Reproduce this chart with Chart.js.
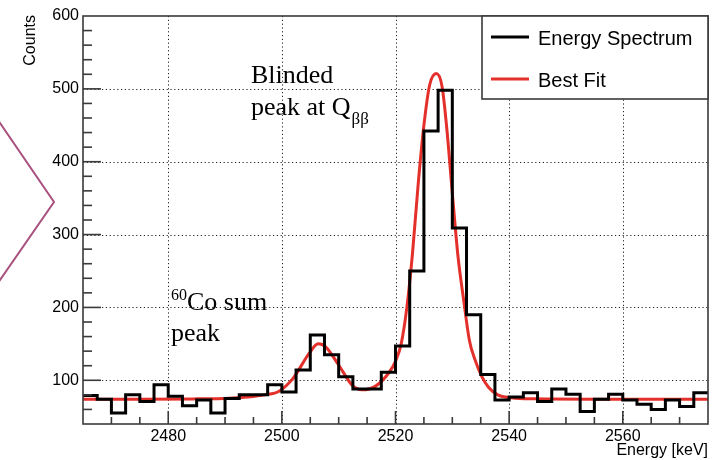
<!DOCTYPE html>
<html>
<head>
<meta charset="utf-8">
<script src="https://cdn.jsdelivr.net/npm/chart.js@4.4.1/dist/chart.umd.min.js"></script>
<style>
  html, body { margin: 0; padding: 0; background: #fff; }
  #wrap { position: relative; width: 716px; height: 460px; }
  canvas { display: block; }
</style>
</head>
<body>
<div id="wrap"><canvas id="c" width="716" height="460"></canvas></div>
<script>
// Histogram bins (lower edge in keV) and their counts
const binLowEdges = [
  2465, 2467.5, 2470, 2472.5, 2475, 2477.5, 2480, 2482.5, 2485, 2487.5,
  2490, 2492.5, 2495, 2497.5, 2500, 2502.5, 2505, 2507.5, 2510, 2512.5,
  2515, 2517.5, 2520, 2522.5, 2525, 2527.5, 2530, 2532.5, 2535, 2537.5,
  2540, 2542.5, 2545, 2547.5, 2550, 2552.5, 2555, 2557.5, 2560, 2562.5,
  2565, 2567.5, 2570, 2572.5
];
const binCounts = [
  79, 74, 55, 80, 71, 94, 78, 65, 73, 55,
  75, 80, 80, 94, 84, 114, 162, 135, 105, 88,
  88, 111, 147, 250, 442, 498, 309, 190, 108, 73,
  77, 83, 71, 88, 81, 57, 74, 81, 73, 67,
  60, 73, 64, 83
];
const histUpperEdge = 2575;

// Fitted model curve, sampled along the energy axis
const fitEnergy = [
  2465, 2475, 2485, 2490, 2494, 2497, 2499.5, 2502, 2504.8, 2506.4,
  2507.7, 2510, 2512.4, 2514.1, 2516.5, 2518.8, 2520, 2521, 2522, 2523,
  2524, 2525, 2526, 2527.2, 2528.2, 2529, 2530, 2531, 2532, 2533,
  2534, 2535.2, 2536.4, 2538, 2540.4, 2544.5, 2555, 2575
];
const fitCounts = [
  74, 74, 74.5, 75, 77, 80, 85, 103, 137, 150,
  146, 121, 93, 87, 92, 110, 126, 150, 200, 275,
  370, 450, 505, 521, 503, 448, 357, 270, 210, 155,
  128, 105, 90, 80, 76, 74.5, 74, 74
];

// Axis ticks
const xTickValues = [2480, 2500, 2520, 2540, 2560];
const yTickValues = [100, 200, 300, 400, 500, 600];
const xRange = [2465, 2575];
const yRange = [40, 600];

const seriesLabels = ['Energy Spectrum', 'Best Fit'];
const histColor = '#000000';
const fitColor = '#e4302a';
const frameColor = '#3a3a3a';
const sansFont = '"Liberation Sans", Arial, Helvetica, sans-serif';
const serifFont = '"Liberation Serif", "Times New Roman", serif';

const histPoints = binLowEdges.map((e, i) => ({ x: e, y: binCounts[i] }));
histPoints.push({ x: histUpperEdge, y: binCounts[binCounts.length - 1] });
const fitPoints = fitEnergy.map((e, i) => ({ x: e, y: fitCounts[i] }));

const decorPlugin = {
  id: 'decor',
  beforeDatasetsDraw(chart) {
    const { ctx, chartArea: a, scales: { x, y } } = chart;
    ctx.save();
    ctx.strokeStyle = '#222';
    ctx.lineWidth = 1;
    ctx.setLineDash([1.2, 2.6]);
    xTickValues.forEach(v => {
      const px = Math.round(x.getPixelForValue(v)) + 0.5;
      ctx.beginPath(); ctx.moveTo(px, a.top); ctx.lineTo(px, a.bottom); ctx.stroke();
    });
    yTickValues.forEach(v => {
      if (v >= yRange[1]) return;
      const py = Math.round(y.getPixelForValue(v)) + 0.5;
      ctx.beginPath(); ctx.moveTo(a.left, py); ctx.lineTo(a.right, py); ctx.stroke();
    });
    ctx.restore();
  },
  afterDatasetsDraw(chart) {
    const { ctx, chartArea: a, scales: { x, y } } = chart;
    ctx.save();
    // Frame
    ctx.strokeStyle = frameColor;
    ctx.lineWidth = 1.6;
    ctx.strokeRect(a.left, a.top, a.right - a.left, a.bottom - a.top);
    // X ticks (major every 20 keV, minor every 5 keV)
    for (let v = 2470; v < xRange[1]; v += 5) {
      const px = x.getPixelForValue(v);
      const len = xTickValues.includes(v) ? 13 : 7;
      ctx.beginPath(); ctx.moveTo(px, a.bottom); ctx.lineTo(px, a.bottom - len); ctx.stroke();
    }
    // Y ticks (major every 100, minor every 20)
    for (let v = 60; v < yRange[1]; v += 20) {
      const py = y.getPixelForValue(v);
      const len = yTickValues.includes(v) ? 18 : 9;
      ctx.beginPath(); ctx.moveTo(a.left, py); ctx.lineTo(a.left + len, py); ctx.stroke();
    }

    // Axis titles
    ctx.fillStyle = '#000';
    ctx.font = '16px ' + sansFont;
    ctx.textAlign = 'right';
    ctx.textBaseline = 'alphabetic';
    ctx.fillText('Energy [keV]', a.right, 455);
    ctx.save();
    ctx.translate(35, a.top - 1);
    ctx.rotate(-Math.PI / 2);
    ctx.textAlign = 'right';
    ctx.fillText('Counts', 0, 0);
    ctx.restore();

    // Legend box
    const lx = 482, ly = a.top, lw = a.right - 482, lh = 83;
    ctx.fillStyle = '#fff';
    ctx.fillRect(lx, ly, lw, lh);
    ctx.strokeStyle = frameColor;
    ctx.lineWidth = 1.6;
    ctx.strokeRect(lx, ly, lw, lh);
    const entries = [
      { label: seriesLabels[0], color: histColor, yMid: 37 },
      { label: seriesLabels[1], color: fitColor, yMid: 79 }
    ];
    ctx.font = '20px ' + sansFont;
    ctx.textAlign = 'left';
    ctx.textBaseline = 'middle';
    entries.forEach(en => {
      ctx.strokeStyle = en.color;
      ctx.lineWidth = 3;
      ctx.beginPath(); ctx.moveTo(491, en.yMid); ctx.lineTo(529, en.yMid); ctx.stroke();
      ctx.fillStyle = '#000';
      ctx.fillText(en.label, 538, en.yMid + 2);
    });

    // Peak annotations
    ctx.textBaseline = 'alphabetic';
    ctx.fillStyle = '#000';
    ctx.font = '26px ' + serifFont;
    ctx.fillText('Blinded', 251, 83);
    ctx.fillText('peak at Q', 251, 115);
    const qw = ctx.measureText('peak at Q').width;
    ctx.font = '17px ' + serifFont;
    ctx.fillText('\u03b2\u03b2', 251 + qw + 1, 124);

    ctx.font = '16px ' + serifFont;
    ctx.fillText('60', 171, 300);
    const sw = ctx.measureText('60').width;
    ctx.font = '26px ' + serifFont;
    ctx.fillText('Co sum', 171 + sw, 310);
    ctx.fillText('peak', 171, 341);

    // Side marker
    ctx.strokeStyle = '#a8507e';
    ctx.lineWidth = 2;
    ctx.beginPath();
    ctx.moveTo(-2, 120); ctx.lineTo(54, 202); ctx.lineTo(-2, 283);
    ctx.stroke();
    ctx.restore();
  }
};

new Chart(document.getElementById('c'), {
  type: 'line',
  data: {
    datasets: [
      {
        label: seriesLabels[0],
        data: histPoints,
        borderColor: histColor,
        borderWidth: 3,
        stepped: true,
        pointRadius: 0,
        fill: false
      },
      {
        label: seriesLabels[1],
        data: fitPoints,
        borderColor: fitColor,
        borderWidth: 3,
        cubicInterpolationMode: 'monotone',
        pointRadius: 0,
        fill: false
      }
    ]
  },
  options: {
    responsive: false,
    animation: false,
    devicePixelRatio: 1,
    layout: { padding: { top: 16, right: 8, left: 0, bottom: 0 } },
    plugins: { legend: { display: false }, tooltip: { enabled: false } },
    scales: {
      x: {
        type: 'linear',
        min: xRange[0],
        max: xRange[1],
        afterBuildTicks: s => { s.ticks = xTickValues.map(v => ({ value: v })); },
        afterFit: s => { s.height = 36; },
        grid: { display: false, drawTicks: false },
        border: { display: false },
        ticks: {
          color: '#000',
          font: { family: sansFont, size: 16 },
          padding: 3,
          maxRotation: 0,
          autoSkip: false,
          callback: v => String(v)
        }
      },
      y: {
        type: 'linear',
        min: yRange[0],
        max: yRange[1],
        afterBuildTicks: s => { s.ticks = yTickValues.map(v => ({ value: v })); },
        afterFit: s => { s.width = 83; },
        grid: { display: false, drawTicks: false },
        border: { display: false },
        ticks: {
          color: '#000',
          font: { family: sansFont, size: 16 },
          padding: 4,
          callback: v => String(v)
        }
      }
    }
  },
  plugins: [decorPlugin]
});
</script>
</body>
</html>
